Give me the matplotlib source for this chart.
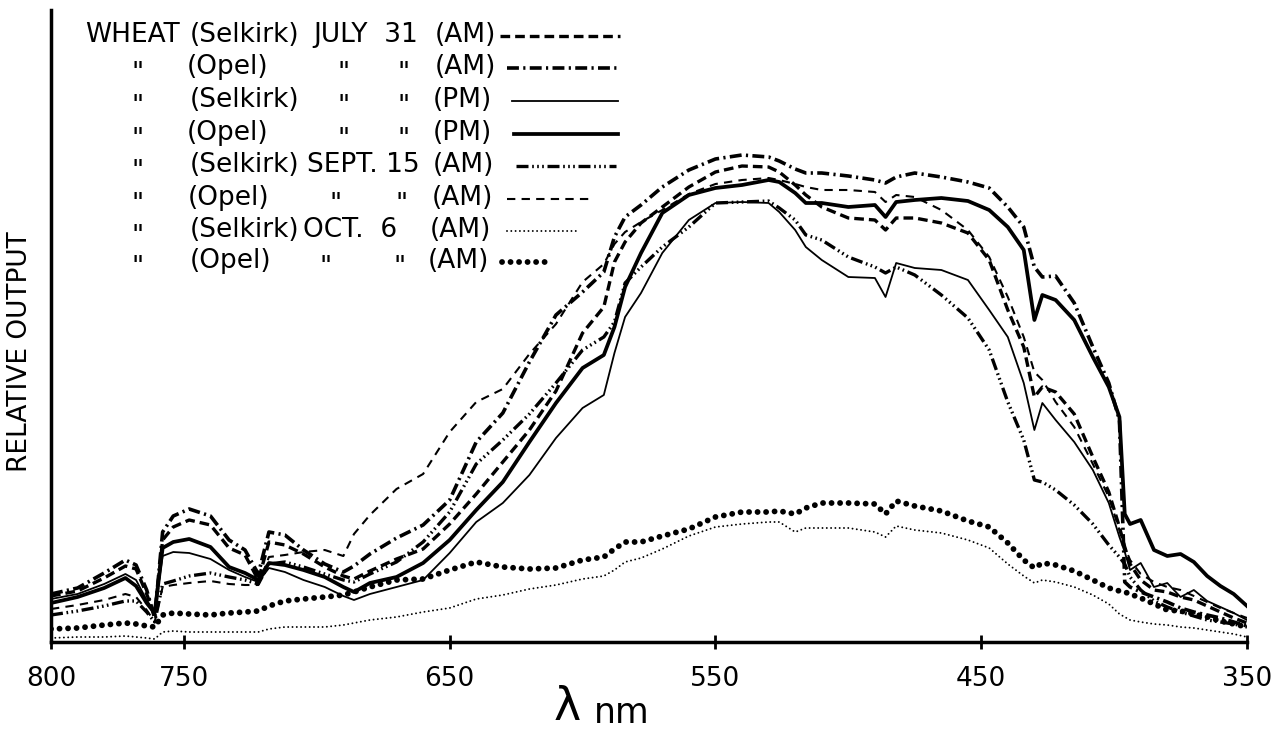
import matplotlib.pyplot as plt
from matplotlib.lines import Line2D

plt.rcParams['font.family'] = 'DejaVu Sans'

# wavelength grid (nm)
wavelength = [800, 790, 780, 772, 768, 764, 761, 758, 754, 748,
              740, 733, 727, 722, 718, 712, 705, 697, 690, 686,
              680, 670, 660, 650, 640, 630, 620, 610, 600, 592,
              588, 584, 578, 570, 560, 550, 540, 530, 526, 520,
              516, 510, 500, 490, 486, 482, 475, 465, 455, 447,
              440, 434, 430, 427, 422, 415, 408, 402, 398, 396,
              394, 390, 385, 380, 375, 370, 365, 360, 355, 350]

# relative output, arbitrary units
selkirk_jul31_am = [46, 51, 64, 76, 73, 48, 26, 102, 115, 122,
                    117, 94, 87, 62, 100, 97, 88, 75, 66, 63,
                    71, 83, 93, 118, 148, 180, 212, 251, 309, 335,
                    380, 400, 419, 435, 455, 470, 476, 475, 470, 457,
                    447, 435, 424, 422, 412, 424, 424, 419, 409, 382,
                    332, 295, 245, 255, 250, 228, 185, 150, 115, 95,
                    78, 62, 52, 50, 45, 42, 36, 30, 24, 19]

opel_jul31_am = [48, 54, 69, 82, 77, 52, 24, 110, 126, 133,
                 126, 102, 92, 68, 110, 107, 92, 78, 70, 76,
                 88, 104, 117, 142, 200, 229, 280, 327, 350, 370,
                 405, 425, 437, 455, 472, 483, 487, 485, 481, 473,
                 469, 469, 466, 462, 459, 465, 469, 465, 460, 454,
                 435, 415, 375, 365, 366, 339, 295, 259, 222, 60,
                 55, 50, 45, 40, 34, 30, 27, 24, 20, 16]

selkirk_jul31_pm = [43, 48, 58, 68, 62, 42, 30, 86, 90, 89,
                    83, 72, 65, 60, 74, 70, 62, 55, 46, 42,
                    48, 55, 62, 89, 120, 139, 167, 204, 234, 247,
                    289, 325, 349, 389, 422, 439, 440, 439, 430, 412,
                    395, 382, 365, 364, 345, 379, 374, 372, 362, 332,
                    305, 259, 212, 239, 222, 200, 172, 139, 105, 90,
                    72, 79, 55, 59, 45, 52, 41, 35, 29, 22]

opel_jul31_pm = [39, 45, 54, 64, 56, 39, 29, 94, 100, 103,
                 95, 75, 69, 62, 79, 77, 72, 65, 55, 50,
                 59, 65, 79, 102, 132, 160, 200, 239, 274, 287,
                 315, 355, 389, 429, 447, 454, 457, 462, 460, 449,
                 439, 439, 435, 437, 425, 440, 442, 444, 441, 432,
                 415, 392, 322, 347, 342, 322, 285, 255, 225, 128,
                 118, 122, 92, 86, 88, 80, 66, 56, 48, 36]

selkirk_sep15_am = [27, 31, 36, 41, 41, 30, 20, 58, 61, 66,
                    69, 65, 62, 58, 78, 80, 75, 68, 62, 60,
                    68, 80, 100, 130, 178, 202, 228, 259, 292, 305,
                    320, 359, 375, 395, 415, 439, 440, 441, 434, 422,
                    407, 402, 385, 375, 369, 375, 367, 347, 324, 292,
                    240, 202, 162, 160, 152, 137, 118, 97, 85, 78,
                    65, 52, 41, 35, 30, 26, 22, 20, 18, 15]

opel_sep15_am = [33, 37, 42, 48, 45, 32, 20, 55, 57, 59,
                 61, 58, 57, 57, 85, 87, 90, 92, 86, 108,
                 127, 153, 168, 210, 240, 253, 288, 318, 360, 378,
                 398, 410, 420, 432, 448, 458, 462, 464, 462, 458,
                 455, 452, 452, 450, 440, 447, 445, 432, 412, 385,
                 345, 305, 270, 262, 240, 215, 178, 145, 112, 95,
                 82, 68, 60, 55, 52, 46, 40, 34, 29, 24]

selkirk_oct6_am = [4, 5, 5, 6, 5, 4, 3, 10, 11, 10,
                   10, 10, 10, 10, 13, 15, 15, 15, 17, 19,
                   22, 25, 30, 34, 43, 47, 53, 57, 63, 66,
                   72, 80, 84, 93, 106, 115, 118, 120, 120, 110,
                   114, 114, 114, 110, 105, 116, 112, 109, 102, 94,
                   78, 66, 59, 62, 60, 55, 47, 38, 28, 25,
                   22, 20, 18, 17, 15, 14, 12, 10, 8, 5]

opel_oct6_am = [13, 14, 17, 19, 18, 16, 15, 27, 29, 28,
                27, 29, 30, 31, 36, 41, 43, 45, 47, 50,
                55, 62, 63, 72, 80, 75, 73, 74, 82, 85,
                93, 100, 100, 106, 113, 125, 130, 130, 131, 128,
                134, 139, 139, 138, 128, 141, 136, 131, 121, 115,
                99, 82, 74, 79, 77, 71, 62, 54, 51, 50,
                48, 44, 38, 32, 31, 28, 25, 21, 18, 15]

xticks = [800, 750, 650, 550, 450, 350]

styles = [
    dict(lw=2.4, ls=(0, (2.9, 1.5))),                               # Selkirk Jul AM
    dict(lw=2.6, ls=(0, (3.3, 1.2, 0.6, 1.2))),                     # Opel Jul AM
    dict(lw=1.3, ls='-'),                                           # Selkirk Jul PM
    dict(lw=2.7, ls='-'),                                           # Opel Jul PM
    dict(lw=2.4, ls=(0, (3.6, 1.1, 0.5, 1.0, 0.5, 1.0, 0.5, 1.1))), # Selkirk Sep AM
    dict(lw=1.5, ls=(0, (4, 3))),                                   # Opel Sep AM
    dict(lw=1.4, ls=(0, (0.01, 2.2)), dash_capstyle='round'),       # Selkirk Oct AM
    dict(lw=4.2, ls=(0, (0.01, 1.45)), dash_capstyle='round'),      # Opel Oct AM
]
series = [selkirk_jul31_am, opel_jul31_am, selkirk_jul31_pm, opel_jul31_pm,
          selkirk_sep15_am, opel_sep15_am, selkirk_oct6_am, opel_oct6_am]

W, H = 1280, 732
fig = plt.figure(figsize=(12.8, 7.32), dpi=100)
ax = fig.add_axes([51 / W, 1 - 642 / H, (1247 - 51) / W, (642 - 10) / H])

for vals, st in zip(series, styles):
    ax.plot(wavelength, vals, color='black', linewidth=st['lw'], linestyle=st['ls'],
            dash_capstyle=st.get('dash_capstyle', 'butt'))

ax.set_xlim(800, 350)
ax.set_ylim(0, 632)
ax.set_xticks(xticks)
ax.set_yticks([])
ax.tick_params(axis='x', direction='inout', length=10, width=2, labelsize=19, pad=12)
for s in ['top', 'right']:
    ax.spines[s].set_visible(False)
for s in ['left', 'bottom']:
    ax.spines[s].set_linewidth(2.5)

fig.text(20 / W, 1 - 352 / H, 'RELATIVE OUTPUT', rotation=90, ha='center', va='center',
         fontsize=19)
fig.text(567 / W, 1 - 707 / H, 'λ', fontsize=33, ha='center', va='center')
fig.text(594 / W, 1 - 713 / H, 'nm', fontsize=25, ha='left', va='center')

# hand-lettered legend: text columns with line samples on the right
ditto = '"'
rows = [
    [(85, 'WHEAT'), (190, '(Selkirk)'), (313, 'JULY  31'), (435, '(AM)')],
    [(132, ditto), (187, '(Opel)'), (337, ditto), (397, ditto), (435, '(AM)')],
    [(132, ditto), (190, '(Selkirk)'), (337, ditto), (397, ditto), (433, '(PM)')],
    [(132, ditto), (187, '(Opel)'), (337, ditto), (397, ditto), (433, '(PM)')],
    [(132, ditto), (190, '(Selkirk)'), (307, 'SEPT. 15'), (433, '(AM)')],
    [(132, ditto), (188, '(Opel)'), (330, ditto), (395, ditto), (432, '(AM)')],
    [(132, ditto), (190, '(Selkirk)'), (303, 'OCT.  6'), (430, '(AM)')],
    [(132, ditto), (190, '(Opel)'), (320, ditto), (393, ditto), (428, '(AM)')],
]
row_base = [42, 74, 107, 140, 172, 205, 237, 268]
sample_x = [(500, 620), (507, 620), (512, 618), (514, 618),
            (516, 616), (507, 592), (507, 580), (502, 545)]

for items, yb, (x0, x1), st in zip(rows, row_base, sample_x, styles):
    for x, txt in items:
        dy = 7 if txt == ditto else 0
        fig.text(x / W, 1 - (yb + dy) / H, txt, fontsize=19, ha='left', va='baseline')
    yl = 1 - (yb - 6) / H
    fig.add_artist(Line2D([x0 / W, x1 / W], [yl, yl], color='black', linewidth=st['lw'],
                          linestyle=st['ls'],
                          dash_capstyle=st.get('dash_capstyle', 'butt')))

fig.savefig('out.png', dpi=100)
